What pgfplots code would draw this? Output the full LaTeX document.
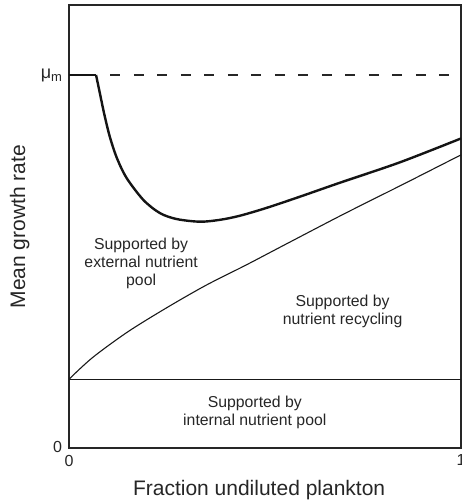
\documentclass[border=0pt]{standalone}
\usepackage{fontspec}
\setmainfont{Liberation Sans}
\usepackage{pgfplots}
\pgfplotsset{compat=1.18}

% Thick curve: total mean growth rate (flat at mu_m, then dip and rise)
\pgfplotstableread{
x      y
0.069  1.000
0.078  0.955
0.090  0.895
0.104  0.835
0.122  0.778
0.147  0.724
0.190  0.665
0.232  0.630
0.275  0.614
0.334  0.607
0.385  0.612
0.436  0.623
0.504  0.644
0.589  0.674
0.690  0.711
0.844  0.766
1.000  0.830
}\totalrate

% Thin curve: upper bound of growth supported by recycling
\pgfplotstableread{
x      y
0.00   0.185
0.06   0.243
0.15   0.312
0.25   0.377
0.35   0.437
0.45   0.490
0.55   0.545
0.70   0.627
0.85   0.706
1.00   0.786
}\recycling

\begin{document}
\begin{tikzpicture}
\begin{axis}[
  name=ax,
  scale only axis,
  width=392pt, height=443.3pt,
  xmin=0, xmax=1, ymin=0, ymax=1.1875,
  axis line style={line width=1.8pt, color=black!85},
  xtick={0,1}, xticklabels={0,1},
  ytick={0,1},
  yticklabels={\raisebox{3pt}{0},{\fontsize{18}{18}\selectfont μ\raisebox{-3pt}{\fontsize{13}{13}\selectfont m}}},
  major tick length=0pt,
  tick label style={font=\fontsize{16}{18}\selectfont, text=black!85},
  xticklabel style={yshift=-3pt},
  yticklabel style={xshift=-3.5pt},
  xlabel={Fraction undiluted plankton},
  ylabel={Mean growth rate},
  label style={font=\fontsize{21}{24}\selectfont, text=black!85},
  xlabel style={at={(axis description cs:0.485,-0.106)}, anchor=base},
  ylabel style={at={(axis description cs:-0.1122,0.5)}, anchor=base},
]
% maximum rate mu_m
\addplot[black!85, line width=1.5pt, dash pattern=on 10pt off 13.5pt, dash phase=10pt]
  coordinates {(0.071,1) (1,1)};
% internal nutrient pool level
\addplot[black!90, line width=1.1pt] coordinates {(0,0.185) (1,0.185)};
% recycling curve
\addplot[black!90, line width=1.1pt, smooth] table[x=x,y=y] {\recycling};
% total growth curve
\addplot[black!92, line width=2.4pt] coordinates {(0,1) (0.069,1)};
\addplot[black!92, line width=2.4pt, smooth] table[x=x,y=y] {\totalrate};

\begin{scope}[every node/.style={align=center, text=black!85,
    font=\fontsize{15.8}{18}\selectfont}]
\node at (axis cs:0.184,0.496) {Supported by\\external nutrient\\pool};
\node at (axis cs:0.698,0.368) {Supported by\\nutrient recycling};
\node at (axis cs:0.474,0.095) {Supported by\\internal nutrient pool};
\end{scope}
\end{axis}
\pgfresetboundingbox
\path ([xshift=-69pt,yshift=-51.7pt]ax.south west) rectangle ([xshift=0.5pt,yshift=5pt]ax.north east);
\end{tikzpicture}
\end{document}
